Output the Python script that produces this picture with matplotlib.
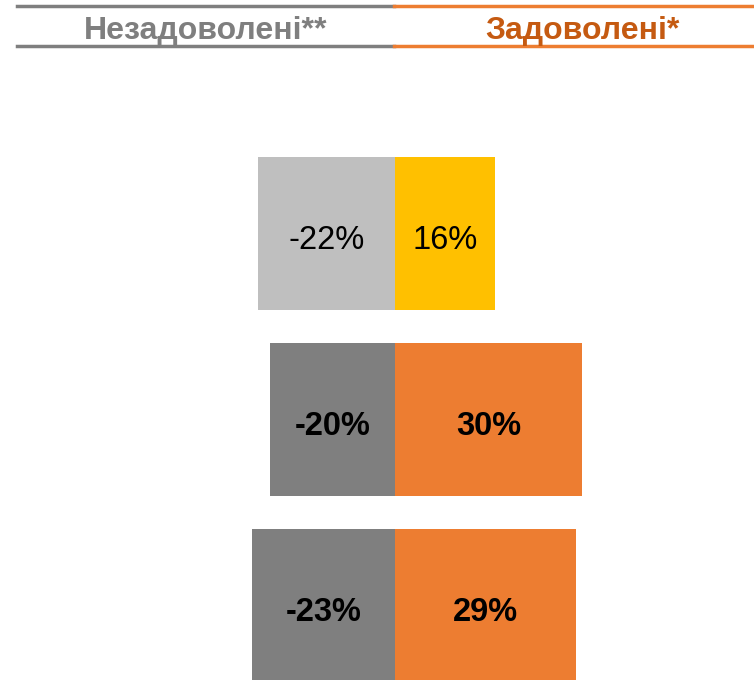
import matplotlib
matplotlib.use("Agg")
import matplotlib.pyplot as plt
from matplotlib.lines import Line2D

plt.rcParams['font.family'] = ['Liberation Sans', 'DejaVu Sans']

# data
rows = [0, 1, 2]
unsatisfied = [-22, -20, -23]
satisfied = [16, 30, 29]
neg_colors = ['#BFBFBF', '#7F7F7F', '#7F7F7F']
pos_colors = ['#FFC000', '#ED7D31', '#ED7D31']
label_weights = ['normal', 'bold', 'bold']

W, H = 754, 680
fig = plt.figure(figsize=(W / 100, H / 100), dpi=100)
ax = fig.add_axes([0, 0, 1, 1])

bar_h = 0.823
ax.barh(rows, unsatisfied, height=bar_h, color=neg_colors, linewidth=0)
ax.barh(rows, satisfied, height=bar_h, color=pos_colors, linewidth=0)

for r, n, p, w in zip(rows, unsatisfied, satisfied, label_weights):
    ax.text(n / 2, r + 0.02, f"{n}%", ha='center', va='center_baseline',
            fontsize=23.5, fontweight=w, color='black')
    ax.text(p / 2, r + 0.02, f"{p}%", ha='center', va='center_baseline',
            fontsize=23.5, fontweight=w, color='black')

ax.set_xlim(-63.4, 57.6)
ax.set_ylim(2.40, -1.255)
ax.axis('off')

# header with rules above and below
def px(x, y):
    return x / W, 1 - y / H

lw = 2.5
for y in (5.7, 46):
    fig.add_artist(Line2D([px(17, y)[0], px(394, y)[0]], [px(17, y)[1]] * 2,
                          color='#7F7F7F', lw=lw))
    fig.add_artist(Line2D([px(394, y)[0], px(754, y)[0]], [px(394, y)[1]] * 2,
                          color='#ED7D31', lw=lw))

fig.text(*px(205.5, 39.5), "Незадоволені**", ha='center', va='baseline',
         fontsize=23, fontweight='bold', color='#7F7F7F')
fig.text(*px(583, 39.5), "Задоволені*", ha='center', va='baseline',
         fontsize=23, fontweight='bold', color='#C55A11')

fig.savefig("out.png", dpi=100)
